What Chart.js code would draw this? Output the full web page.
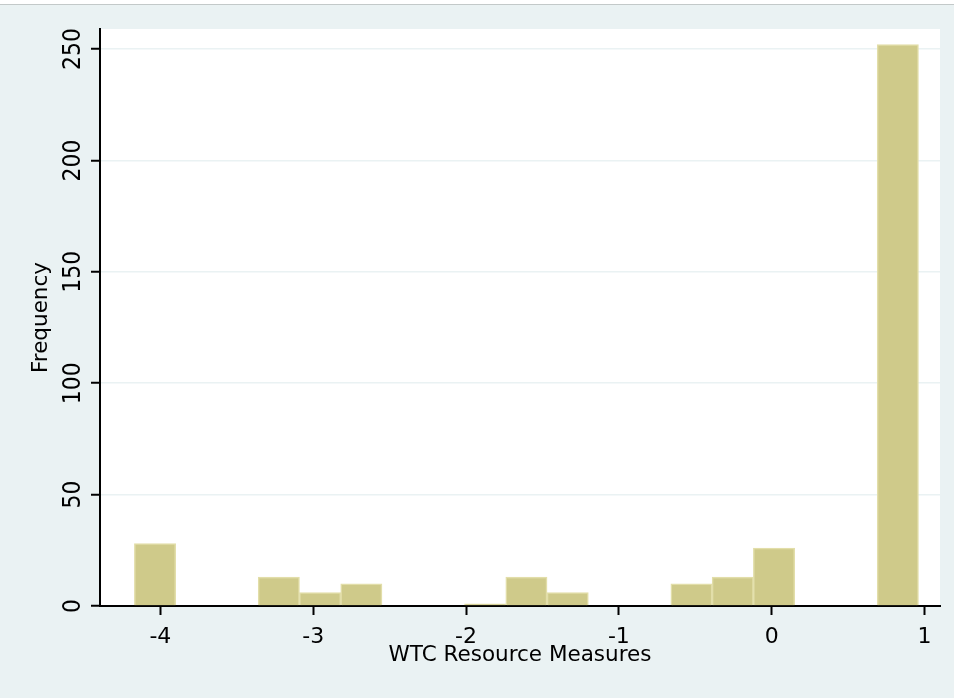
<!DOCTYPE html>
<html>
<head>
<meta charset="utf-8">
<title>WTC Resource Measures</title>
<script src="https://cdn.jsdelivr.net/npm/chart.js@4.4.1/dist/chart.umd.min.js"></script>
<style>
    html, body { margin: 0; padding: 0; background: #ffffff; }
    #wrap { width: 954px; height: 698px; position: relative; }
</style>
</head>
<body>
<div id="wrap"><canvas id="histChart" width="954" height="698"></canvas></div>
<script>
// --- Data ---
const binCenters = [-4.035, -3.765, -3.495, -3.225, -2.955, -2.685, -2.415, -2.145, -1.875, -1.605,
                    -1.335, -1.065, -0.795, -0.525, -0.255, 0.015, 0.285, 0.555, 0.825];
const frequencies = [28, 0, 0, 13, 6, 10, 0, 0, 1, 13, 6, 0, 0, 10, 13, 26, 0, 0, 252];
const xRange = [-4.395, 1.101];
const yRange = [0, 259];
const xStep = 1;
const yStep = 50;
const xTitle = 'WTC Resource Measures';
const yTitle = 'Frequency';

const FONT = 'DejaVu Sans';
const BG = '#eaf2f3';

// background, top rule and white plot region
const backdrop = {
    id: 'backdrop',
    beforeDraw(chart) {
        const ctx = chart.ctx;
        const a = chart.chartArea;
        ctx.save();
        ctx.fillStyle = '#ffffff';
        ctx.fillRect(0, 0, chart.width, chart.height);
        ctx.fillStyle = BG;
        ctx.fillRect(0, 5, chart.width, chart.height - 5);
        ctx.fillStyle = '#c3c9c9';
        ctx.fillRect(0, 4, chart.width, 1);
        ctx.fillStyle = '#ffffff';
        ctx.fillRect(a.left, a.top, a.right - a.left, a.bottom - a.top);
        ctx.restore();
    }
};

// y tick labels read bottom-to-top like the Stata original
const rotatedYLabels = {
    id: 'rotatedYLabels',
    afterDraw(chart) {
        const ctx = chart.ctx;
        const y = chart.scales.y;
        ctx.save();
        ctx.font = '22px "' + FONT + '"';
        ctx.fillStyle = '#000000';
        ctx.textAlign = 'center';
        ctx.textBaseline = 'alphabetic';
        y.ticks.forEach(function (t) {
            const py = y.getPixelForValue(t.value);
            ctx.save();
            ctx.translate(79.5, py);
            ctx.scale(1.12, 1);
            ctx.rotate(-Math.PI / 2);
            ctx.fillText(String(t.value), 0, 0);
            ctx.restore();
        });
        ctx.restore();
    }
};

Chart.defaults.font.family = FONT;
Chart.defaults.color = '#000000';

const ctx = document.getElementById('histChart').getContext('2d');
new Chart(ctx, {
    type: 'bar',
    data: {
        datasets: [{
            label: yTitle,
            data: binCenters.map(function (c, i) { return { x: c, y: frequencies[i] }; }),
            backgroundColor: '#cfca8a',
            borderColor: '#e2dea9',
            borderWidth: 1.5,
            barPercentage: 1,
            categoryPercentage: 1
        }]
    },
    options: {
        responsive: false,
        animation: false,
        events: [],
        layout: { padding: { top: 29, right: 14, left: 0, bottom: 0 } },
        plugins: { legend: { display: false }, tooltip: { enabled: false } },
        scales: {
            x: {
                type: 'linear',
                min: xRange[0],
                max: xRange[1],
                offset: false,
                afterFit: function (s) { s.height = 92; },
                ticks: {
                    stepSize: xStep,
                    includeBounds: false,
                    padding: 9,
                    maxRotation: 0,
                    font: { size: 22 },
                    color: '#000000'
                },
                grid: {
                    offset: false,
                    drawOnChartArea: false,
                    tickLength: 9,
                    tickColor: '#000000',
                    tickWidth: 2
                },
                border: { color: '#000000', width: 2 },
                title: {
                    display: true,
                    text: xTitle,
                    font: { size: 21.5, lineHeight: 1.2 },
                    color: '#000000',
                    padding: { top: 0, bottom: 30 }
                }
            },
            y: {
                min: yRange[0],
                max: yRange[1],
                afterFit: function (s) { s.width = 100; },
                ticks: {
                    stepSize: yStep,
                    includeBounds: false,
                    display: false
                },
                grid: {
                    color: BG,
                    lineWidth: 1.5,
                    tickLength: 9,
                    tickColor: '#000000',
                    tickWidth: 2
                },
                border: { color: '#000000', width: 2 },
                title: {
                    display: true,
                    text: yTitle,
                    font: { size: 21.5, lineHeight: 1.2 },
                    color: '#000000',
                    padding: { top: 29, bottom: 0 }
                }
            }
        }
    },
    plugins: [backdrop, rotatedYLabels]
});
</script>
</body>
</html>
